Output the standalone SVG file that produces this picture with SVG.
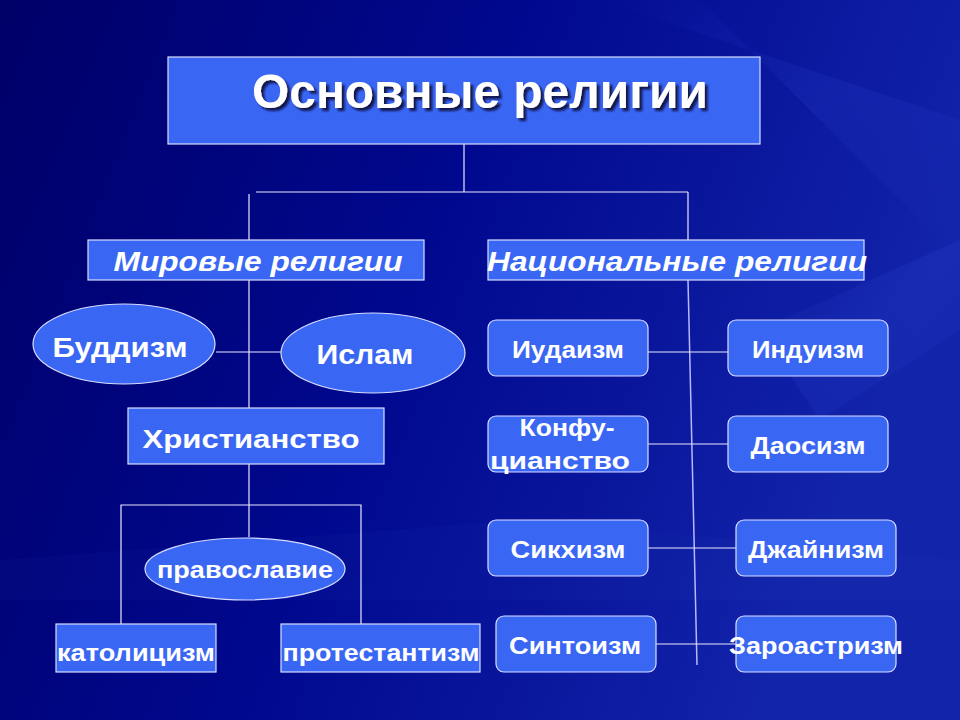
<svg xmlns="http://www.w3.org/2000/svg" width="960" height="720" viewBox="0 0 960 720">
<defs>
<linearGradient id="bg" x1="0" y1="0" x2="1" y2="0.3">
<stop offset="0" stop-color="#000068"/>
<stop offset="0.5" stop-color="#00088e"/>
<stop offset="1" stop-color="#1224aa"/>
</linearGradient>
<linearGradient id="streak" x1="0" y1="0" x2="1" y2="1">
<stop offset="0" stop-color="#4a6aff" stop-opacity="0"/>
<stop offset="0.5" stop-color="#4a6aff" stop-opacity="0.1"/>
<stop offset="1" stop-color="#4a6aff" stop-opacity="0"/>
</linearGradient>
<filter id="shadow" x="-5%" y="-20%" width="110%" height="140%">
<feDropShadow dx="3" dy="3" stdDeviation="1" flood-color="#10103a" flood-opacity="0.9"/>
</filter>
<style>
.box{fill:#3a66f4;stroke:#d8dcff;stroke-width:1.2}
.ln{stroke:#e8e8ff;stroke-width:1.2;fill:none}
.t{font-family:"Liberation Sans",Arial,sans-serif;font-weight:bold;fill:#ffffff;text-anchor:middle}
.it{font-family:"Liberation Sans",Arial,sans-serif;font-style:italic;font-weight:bold;fill:#ffffff;text-anchor:middle}
</style>
</defs>
<rect width="960" height="720" fill="url(#bg)"/>
<path d="M600 0 L960 120 L960 260 L700 0 Z" fill="url(#streak)"/>
<path d="M760 330 L960 240 L960 330 L820 420 Z" fill="url(#streak)"/>
<path d="M0 560 L520 520 L960 560 L960 600 L0 600 Z" fill="#3a50d0" opacity="0.06"/>

<g id="connectors">
<line class="ln" x1="464" y1="144" x2="464" y2="192"/>
<line class="ln" x1="256" y1="192" x2="688" y2="192"/>
<line class="ln" x1="249" y1="194" x2="249" y2="408"/>
<line class="ln" x1="688" y1="192" x2="688" y2="240"/>
<line class="ln" x1="216" y1="352" x2="281" y2="352"/>
<line class="ln" x1="249" y1="464" x2="249" y2="537"/>
<polyline class="ln" points="121,624 121,505 361,505 361,624"/>
<line x1="688" y1="280" x2="697" y2="665" stroke="#b8b8ff" stroke-width="1.5"/>
<line class="ln" x1="648" y1="352" x2="728" y2="352"/>
<line class="ln" x1="648" y1="444" x2="728" y2="444"/>
<line class="ln" x1="648" y1="548" x2="736" y2="548"/>
<line class="ln" x1="656" y1="644" x2="736" y2="644"/>
</g>

<g id="title">
<rect class="box" x="168" y="57" width="592" height="87"/>
<text class="t" x="480" y="108" font-size="48" textLength="456" lengthAdjust="spacingAndGlyphs" filter="url(#shadow)">Основные религии</text>
</g>

<g id="world">
<rect class="box" x="88" y="240" width="336" height="40"/>
<text class="it" x="258" y="271" font-size="27" textLength="289" lengthAdjust="spacingAndGlyphs">Мировые религии</text>
</g>
<g id="national">
<rect class="box" x="488" y="240" width="376" height="40"/>
<text class="it" x="677" y="271" font-size="27" textLength="380" lengthAdjust="spacingAndGlyphs">Национальные религии</text>
</g>

<g id="buddhism">
<ellipse class="box" cx="124" cy="344" rx="91" ry="40"/>
<text class="t" x="120" y="357" font-size="27" textLength="135" lengthAdjust="spacingAndGlyphs">Буддизм</text>
</g>
<g id="islam">
<ellipse class="box" cx="373" cy="353" rx="92" ry="40"/>
<text class="t" x="365" y="364" font-size="28" textLength="97" lengthAdjust="spacingAndGlyphs">Ислам</text>
</g>
<g id="christianity">
<rect class="box" x="128" y="408" width="256" height="56"/>
<text class="t" x="251" y="448" font-size="26" textLength="217" lengthAdjust="spacingAndGlyphs">Христианство</text>
</g>
<g id="orthodoxy">
<ellipse class="box" cx="245" cy="569" rx="100" ry="31"/>
<text class="t" x="245" y="578" font-size="23" textLength="176" lengthAdjust="spacingAndGlyphs">православие</text>
</g>
<g id="catholicism">
<rect class="box" x="56" y="624" width="160" height="48"/>
<text class="t" x="136" y="661" font-size="23" textLength="158" lengthAdjust="spacingAndGlyphs">католицизм</text>
</g>
<g id="protestantism">
<rect class="box" x="281" y="624" width="199" height="48"/>
<text class="t" x="381" y="661" font-size="23" textLength="197" lengthAdjust="spacingAndGlyphs">протестантизм</text>
</g>

<g id="judaism">
<rect class="box" x="488" y="320" width="160" height="56" rx="8"/>
<text class="t" x="568" y="358" font-size="24" textLength="112" lengthAdjust="spacingAndGlyphs">Иудаизм</text>
</g>
<g id="hinduism">
<rect class="box" x="728" y="320" width="160" height="56" rx="8"/>
<text class="t" x="808" y="358" font-size="24" textLength="112" lengthAdjust="spacingAndGlyphs">Индуизм</text>
</g>
<g id="confucianism">
<rect class="box" x="488" y="416" width="160" height="56" rx="8"/>
<text class="t" x="567" y="436" font-size="24" textLength="95" lengthAdjust="spacingAndGlyphs">Конфу-</text>
<text class="t" x="560" y="469" font-size="24" textLength="140" lengthAdjust="spacingAndGlyphs">цианство</text>
</g>
<g id="taoism">
<rect class="box" x="728" y="416" width="160" height="56" rx="8"/>
<text class="t" x="808" y="454" font-size="24" textLength="115" lengthAdjust="spacingAndGlyphs">Даосизм</text>
</g>
<g id="sikhism">
<rect class="box" x="488" y="520" width="160" height="56" rx="8"/>
<text class="t" x="568" y="558" font-size="24" textLength="115" lengthAdjust="spacingAndGlyphs">Сикхизм</text>
</g>
<g id="jainism">
<rect class="box" x="736" y="520" width="160" height="56" rx="8"/>
<text class="t" x="816" y="558" font-size="24" textLength="136" lengthAdjust="spacingAndGlyphs">Джайнизм</text>
</g>
<g id="shinto">
<rect class="box" x="496" y="616" width="160" height="56" rx="8"/>
<text class="t" x="575" y="654" font-size="24" textLength="132" lengthAdjust="spacingAndGlyphs">Синтоизм</text>
</g>
<g id="zoroastrianism">
<rect class="box" x="736" y="616" width="160" height="56" rx="8"/>
<text class="t" x="816" y="654" font-size="24" textLength="174" lengthAdjust="spacingAndGlyphs">Зароастризм</text>
</g>
</svg>
